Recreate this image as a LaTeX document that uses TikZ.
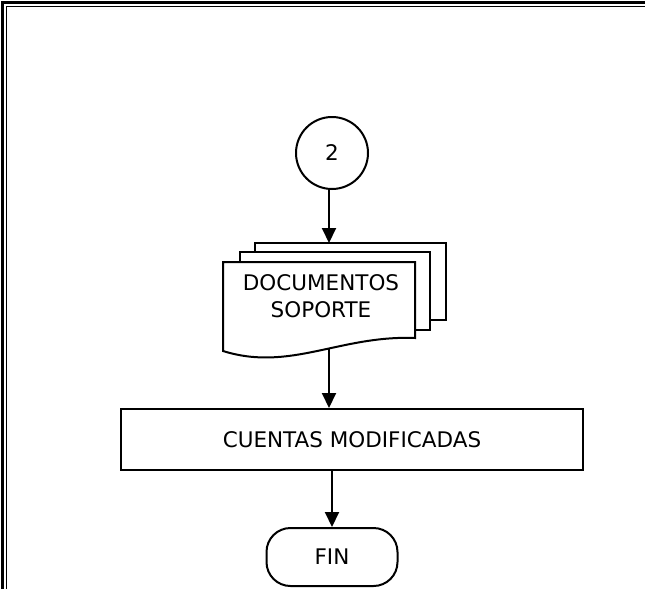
\documentclass[tikz,border=0pt]{standalone}
\usepackage{fontspec}
\setmainfont{DejaVu Sans}
\usepackage{tikz}
\usetikzlibrary{arrows.meta}
\usetikzlibrary{calc}

\tikzset{
    flecha/.style={line width=2pt, -{Triangle[length=15pt, width=14pt]}},
    hoja/.style={line width=2pt, fill=white, line join=miter},
    conector/.style={draw, circle, line width=2pt, minimum size=72pt, inner sep=0pt},
    proceso/.style={draw, rectangle, line width=2pt, minimum width=462pt, minimum height=61pt, inner sep=0pt},
    terminal/.style={draw, rectangle, rounded corners=24pt, line width=2pt, minimum width=131pt, minimum height=58pt, inner sep=0pt}
}

\begin{document}
\begin{tikzpicture}[x=1pt, y=-1pt, font=\fontsize{21.5}{27}\selectfont]
        \useasboundingbox (0,0) rectangle (645,589);
        \fill [white] (0,0) rectangle (645,589);
        \draw [line width=2.4pt] (2.5,589) -- (2.5,2.5) -- (645,2.5);
        \draw [line width=0.9pt] (6.5,589) -- (6.5,6.5) -- (645,6.5);
        \node [conector] (c2) at (332,153) {2};
        \draw [hoja] (255,252) -- (255,243) -- (446,243) -- (446,320) -- (430,320);
        \draw [hoja] (240,262) -- (240,252) -- (430,252) -- (430,330) -- (415,330);
        \draw [hoja] (223,262) -- (415,262) -- (415,338) .. controls (340,335) and (290,372) .. (223,351) -- cycle;
        \coordinate (docs top) at (329,243);
        \coordinate (docs bot) at (329,348.5);
        \node [align=center] (docs) at (321,296) {DOCUMENTOS\\SOPORTE};
        \node [proceso] (cm) at (352,439.5) {CUENTAS MODIFICADAS};
        \node [terminal] (fin) at (332,557) {FIN};
        \draw [flecha] (c2.south -| docs top) -- (docs top);
        \draw [flecha] (docs bot) -- (docs bot |- cm.north);
        \draw [flecha] (fin.north |- cm.south) -- (fin.north);
    \end{tikzpicture}
\end{document}
